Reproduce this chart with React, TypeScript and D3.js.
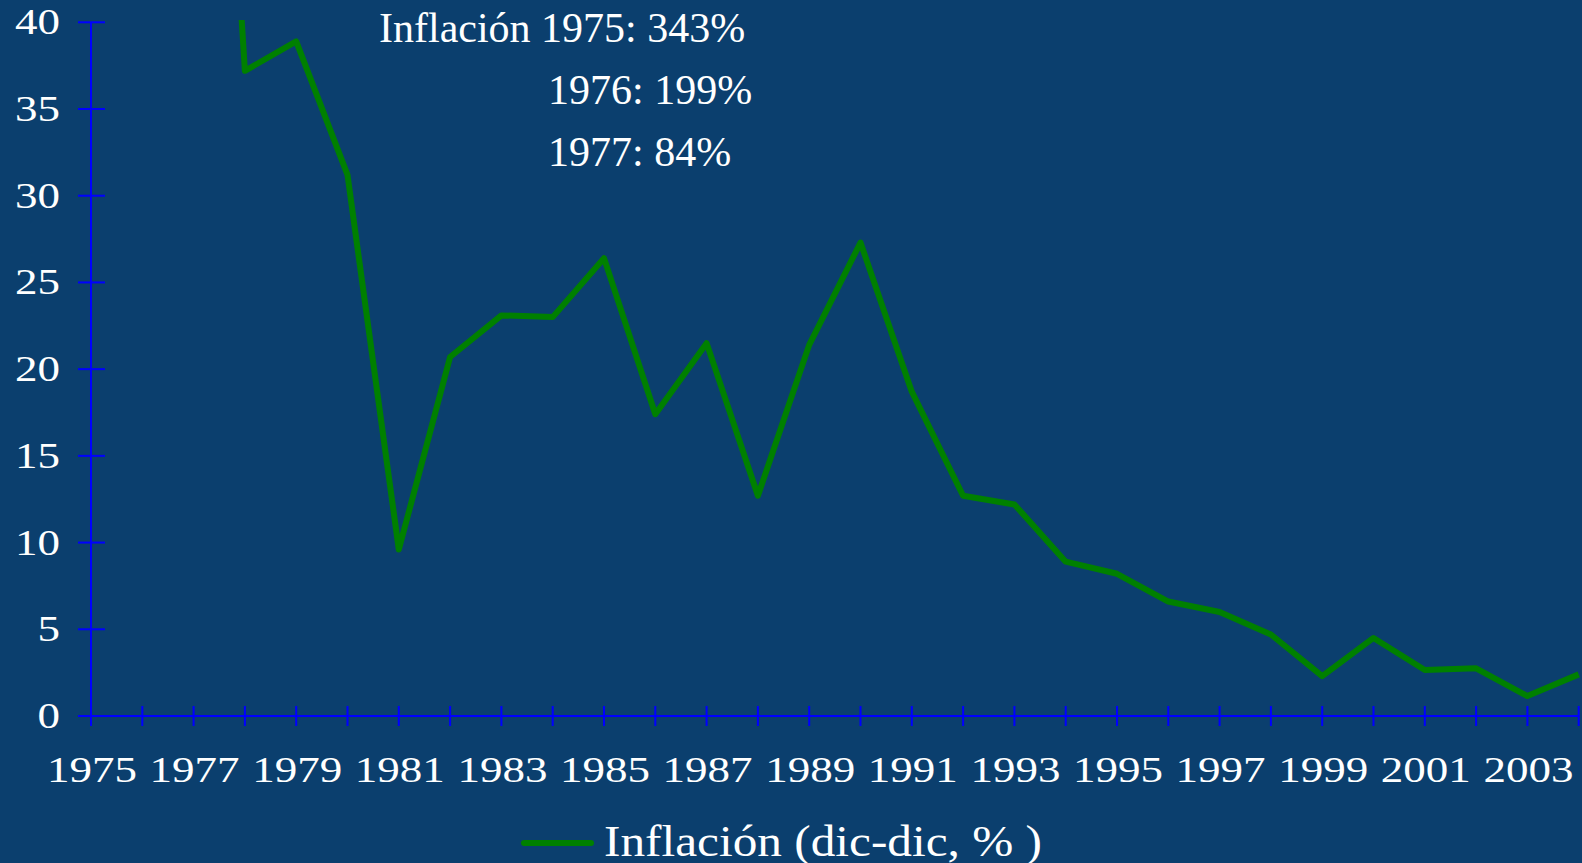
import React from 'react'
import * as d3 from 'd3'

// Chile inflation, Dec-Dec (%)
const years = [1975, 1976, 1977, 1978, 1979, 1980, 1981, 1982, 1983, 1984, 1985, 1986, 1987, 1988, 1989,
  1990, 1991, 1992, 1993, 1994, 1995, 1996, 1997, 1998, 1999, 2000, 2001, 2002, 2003, 2004]
const inflation = [343, 199, 84, 37.2, 38.9, 31.2, 9.6, 20.7, 23.1, 23.0, 26.4, 17.4, 21.5, 12.7, 21.4,
  27.3, 18.7, 12.7, 12.2, 8.9, 8.2, 6.6, 6.0, 4.7, 2.3, 4.5, 2.65, 2.75, 1.15, 2.4]
const yTicks = [0, 5, 10, 15, 20, 25, 30, 35, 40]
const xLabels = [1975, 1977, 1979, 1981, 1983, 1985, 1987, 1989, 1991, 1993, 1995, 1997, 1999, 2001, 2003]
const noteLines = ['Inflación 1975: 343%', '1976: 199%', '1977: 84%']
const legendLabel = 'Inflación (dic-dic, % )'

const W = 1582
const H = 863
const BG = '#0B3F6E'
const AXIS = '#0000FF'
const GREEN = '#008000'
const FONT = '"Liberation Serif", "Times New Roman", serif'

const App = () => {
  const x = d3.scaleLinear().domain([1975, 2004]).range([91, 1578.7])
  const y = d3.scaleLinear().domain([0, 40]).range([716, 22.3])

  const line = d3.line<number>()
    .x((d, i) => x(years[i]))
    .y(d => y(d))

  const data = years.map((yr, i) => ({year: yr, value: inflation[i]}))

  return (
    <div style={{position: 'fixed', left: 0, top: 0, width: W, height: H, background: BG}}>
      <svg width={W} height={H} style={{display: 'block'}}>
        <rect width={W} height={H} fill={BG} />
        <defs>
          <clipPath id="plot">
            <rect x={x(1975)} y={20} width={W - x(1975)} height={y(0) + 10 - 20} />
          </clipPath>
        </defs>

        {/* y axis */}
        <line x1={x(1975)} x2={x(1975)} y1={y(40)} y2={y(0) + 10} stroke={AXIS} strokeWidth={2} />
        {yTicks.map(t => (
          <g key={'y' + t}>
            <line x1={x(1975) - 13} x2={x(1975) + 14} y1={y(t)} y2={y(t)} stroke={AXIS} strokeWidth={2} />
            <text transform={`translate(${x(1975) - 31},${y(t) + 12}) scale(1.25,1)`}
              textAnchor="end" fill="#fff" fontFamily={FONT} fontSize={36}>{t}</text>
          </g>
        ))}

        {/* x axis */}
        <line x1={x(1975) - 13} x2={x(2004)} y1={y(0)} y2={y(0)} stroke={AXIS} strokeWidth={2} />
        {years.map(yr => (
          <line key={'x' + yr} x1={x(yr)} x2={x(yr)} y1={y(0) - 10} y2={y(0) + 10} stroke={AXIS} strokeWidth={2} />
        ))}
        {xLabels.map(yr => (
          <text key={'xl' + yr} transform={`translate(${x(yr) + 1},${y(0) + 66}) scale(1.25,1)`}
            textAnchor="middle" fill="#fff" fontFamily={FONT} fontSize={36}>{yr}</text>
        ))}

        {/* series */}
        <g clipPath="url(#plot)">
          <path d={line(data.map(d => d.value)) || ''} fill="none" stroke={GREEN} strokeWidth={6}
            strokeLinejoin="round" />
        </g>

        {/* annotation */}
        <text x={379} y={42} fill="#fff" fontFamily={FONT} fontSize={42}>{noteLines[0]}</text>
        <text x={548} y={104} fill="#fff" fontFamily={FONT} fontSize={42}>{noteLines[1]}</text>
        <text x={548} y={166} fill="#fff" fontFamily={FONT} fontSize={42}>{noteLines[2]}</text>

        {/* legend */}
        <line x1={524} x2={591} y1={843} y2={843} stroke={GREEN} strokeWidth={6} strokeLinecap="round" />
        <text x={604} y={856} fill="#fff" fontFamily={FONT} fontSize={44}
          textLength={438} lengthAdjust="spacingAndGlyphs">{legendLabel}</text>
      </svg>
    </div>
  )
}

export default App
